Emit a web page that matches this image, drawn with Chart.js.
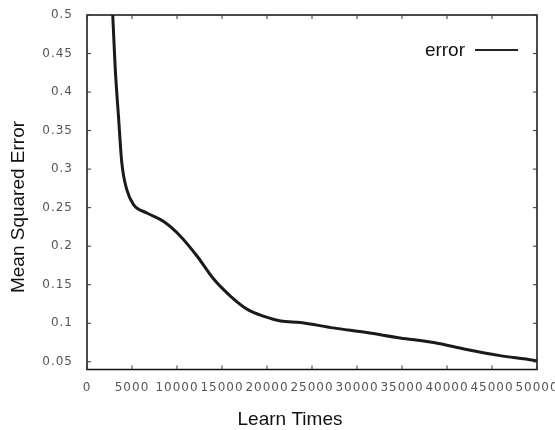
<!DOCTYPE html>
<html>
<head>
<meta charset="utf-8">
<script src="https://cdn.jsdelivr.net/npm/chart.js@4"></script>
<style>
html, body { margin: 0; padding: 0; background: #fff; }
</style>
</head>
<body>
<canvas id="graphe" width="555" height="430"></canvas>
<script>
// valeurs
const learnTimes = [2500, 2860, 3125, 3500, 3870, 4430, 5170, 6660, 8520, 10380, 12240, 14100, 15960, 17820, 19680, 21540, 23700, 27370, 31070, 34780, 38520, 42190, 45890, 49590, 50000];
const errValues  = [0.58, 0.500, 0.433, 0.368, 0.308, 0.273, 0.254, 0.243, 0.232, 0.213, 0.187, 0.157, 0.135, 0.118, 0.109, 0.103, 0.101, 0.094, 0.088, 0.081, 0.075, 0.066, 0.058, 0.052, 0.051];

const xTicks = [0, 5000, 10000, 15000, 20000, 25000, 30000, 35000, 40000, 45000, 50000];
const yTicks = [0.05, 0.1, 0.15, 0.2, 0.25, 0.3, 0.35, 0.4, 0.45, 0.5];

const xTitle = 'Learn Times';
const yTitle = 'Mean Squared Error';
const serieNom = 'error';

function trait(ctx, x1, y1, x2, y2) {
    ctx.beginPath();
    ctx.moveTo(x1, y1);
    ctx.lineTo(x2, y2);
    ctx.stroke();
}

const cadre = {
    id: 'cadre',
    beforeDraw(chart) {
        chart.ctx.letterSpacing = '1px';
    },
    afterDraw(chart) {
        const ctx = chart.ctx;
        const a = chart.chartArea;
        const x = chart.scales.x, y = chart.scales.y;
        ctx.save();
        ctx.letterSpacing = '0px';
        ctx.strokeStyle = '#111';
        ctx.lineWidth = 1.5;
        ctx.strokeRect(a.left, a.top, a.right - a.left, a.bottom - a.top);
        ctx.lineWidth = 1;
        ctx.strokeStyle = '#333';
        xTicks.forEach(v => {
            const px = x.getPixelForValue(v);
            trait(ctx, px, a.bottom, px, a.bottom - 4);
            trait(ctx, px, a.top, px, a.top + 4);
        });
        yTicks.forEach(v => {
            const py = y.getPixelForValue(v);
            trait(ctx, a.left, py, a.left + 4, py);
            trait(ctx, a.right, py, a.right - 4, py);
        });
        // legende
        ctx.fillStyle = '#111';
        ctx.font = '19px "Liberation Sans", Arial, sans-serif';
        ctx.textAlign = 'right';
        ctx.textBaseline = 'middle';
        ctx.fillText(serieNom, 465, 51);
        ctx.strokeStyle = '#222';
        ctx.lineWidth = 2;
        trait(ctx, 475, 50, 518, 50);
        // titres
        ctx.textAlign = 'center';
        ctx.fillText(xTitle, 290, 420);
        ctx.translate(19, 207);
        ctx.rotate(-Math.PI / 2);
        ctx.fillText(yTitle, 0, 0);
        ctx.restore();
    }
};

const points = learnTimes.map((t, i) => ({ x: t, y: errValues[i] }));

const tickFont = { family: '"DejaVu Sans", sans-serif', size: 12 };

const graph1 = new Chart(document.getElementById('graphe').getContext('2d'), {
    type: 'line',
    data: {
        datasets: [{
            label: serieNom,
            data: points,
            borderColor: '#1a1a1a',
            borderWidth: 3,
            pointRadius: 0,
            fill: false,
            cubicInterpolationMode: 'monotone'
        }]
    },
    options: {
        responsive: false,
        animation: false,
        layout: { padding: { top: 15, right: 18, left: 0, bottom: 0 } },
        plugins: { legend: { display: false }, tooltip: { enabled: false } },
        scales: {
            x: {
                type: 'linear',
                min: 0,
                max: 50000,
                grid: { display: false },
                border: { display: false },
                afterBuildTicks: s => { s.ticks = xTicks.map(v => ({ value: v })); },
                afterFit: s => { s.height = 60.5; s.paddingLeft = 0; s.paddingRight = 0; },
                ticks: {
                    color: '#555',
                    font: tickFont,
                    padding: 3,
                    maxRotation: 0,
                    autoSkip: false,
                    callback: v => String(v)
                }
            },
            y: {
                type: 'linear',
                min: 0.04,
                max: 0.5,
                grid: { display: false },
                border: { display: false },
                afterBuildTicks: s => { s.ticks = yTicks.map(v => ({ value: v })); },
                afterFit: s => { s.width = 87; s.paddingTop = 0; s.paddingBottom = 0; },
                ticks: {
                    color: '#555',
                    font: tickFont,
                    padding: 6,
                    autoSkip: false,
                    callback: v => String(Math.round(v * 100) / 100)
                }
            }
        }
    },
    plugins: [cadre]
});
</script>
</body>
</html>
